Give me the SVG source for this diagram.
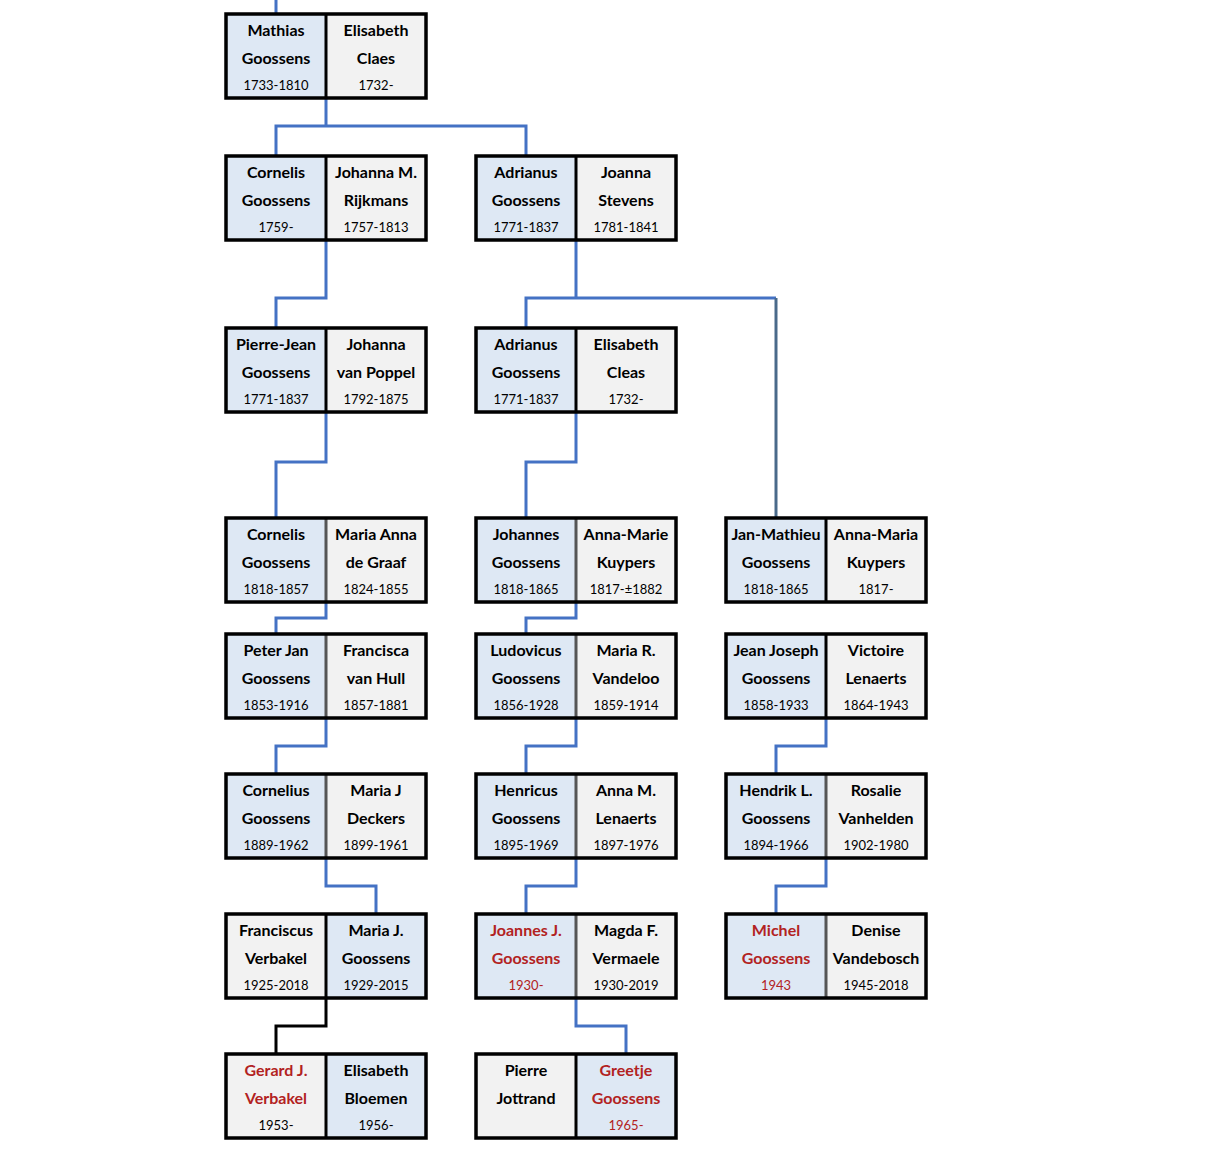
<svg xmlns="http://www.w3.org/2000/svg" width="1220" height="1154" viewBox="0 0 1220 1154">
<style>
.b{fill:#DEE8F4}.g{fill:#F2F2F2}
.o{fill:none;stroke:#000;stroke-width:3.5}
.dk{stroke:#000;stroke-width:3}.dg{stroke:#555;stroke-width:3}
text{font-family:Lato,"Open Sans","Liberation Sans",sans-serif;text-anchor:middle;fill:#000}
.n{font-size:16px;font-weight:bold}.y{font-size:13px}
.r{fill:#B22222}
.c{fill:none;stroke:#4472C4;stroke-width:3}
</style>
<g id="connectors">
<path class="c" d="M276 0V14M326 98V126M276 156V126H526V156M326 240V298H276V328M576 240V298H526V328M576 298H776"/>
<path fill="none" stroke="#4A6A8A" stroke-width="3" d="M776 298V518"/>
<path class="c" d="M326 412V462H276V518M576 412V462H526V518M326 602V618H276V634M576 602V618H526V634M326 718V746H276V774M576 718V746H526V774M826 718V746H776V774M326 858V886H376V914M576 858V886H526V914M826 858V886H776V914M576 998V1026H626V1054"/>
<path fill="none" stroke="#000" stroke-width="3" d="M326 998V1026H276V1054"/>
</g>
<g id="n1"><rect class="b" x="226" y="14" width="100" height="84"/><rect class="g" x="326" y="14" width="100" height="84"/><line class="dk" x1="326" y1="14" x2="326" y2="98"/><rect class="o" x="226" y="14" width="200" height="84"/>
<text class="n" x="276" y="36">Mathias</text><text class="n" x="276" y="64">Goossens</text><text class="y" x="276" y="90">1733-1810</text>
<text class="n" x="376" y="36">Elisabeth</text><text class="n" x="376" y="64">Claes</text><text class="y" x="376" y="90">1732-</text></g>
<g id="n2"><rect class="b" x="226" y="156" width="100" height="84"/><rect class="g" x="326" y="156" width="100" height="84"/><line class="dk" x1="326" y1="156" x2="326" y2="240"/><rect class="o" x="226" y="156" width="200" height="84"/>
<text class="n" x="276" y="178">Cornelis</text><text class="n" x="276" y="206">Goossens</text><text class="y" x="276" y="232">1759-</text>
<text class="n" x="376" y="178">Johanna M.</text><text class="n" x="376" y="206">Rijkmans</text><text class="y" x="376" y="232">1757-1813</text></g>
<g id="n3"><rect class="b" x="476" y="156" width="100" height="84"/><rect class="g" x="576" y="156" width="100" height="84"/><line class="dk" x1="576" y1="156" x2="576" y2="240"/><rect class="o" x="476" y="156" width="200" height="84"/>
<text class="n" x="526" y="178">Adrianus</text><text class="n" x="526" y="206">Goossens</text><text class="y" x="526" y="232">1771-1837</text>
<text class="n" x="626" y="178">Joanna</text><text class="n" x="626" y="206">Stevens</text><text class="y" x="626" y="232">1781-1841</text></g>
<g id="n4"><rect class="b" x="226" y="328" width="100" height="84"/><rect class="g" x="326" y="328" width="100" height="84"/><line class="dk" x1="326" y1="328" x2="326" y2="412"/><rect class="o" x="226" y="328" width="200" height="84"/>
<text class="n" x="276" y="350">Pierre-Jean</text><text class="n" x="276" y="378">Goossens</text><text class="y" x="276" y="404">1771-1837</text>
<text class="n" x="376" y="350">Johanna</text><text class="n" x="376" y="378">van Poppel</text><text class="y" x="376" y="404">1792-1875</text></g>
<g id="n5"><rect class="b" x="476" y="328" width="100" height="84"/><rect class="g" x="576" y="328" width="100" height="84"/><line class="dk" x1="576" y1="328" x2="576" y2="412"/><rect class="o" x="476" y="328" width="200" height="84"/>
<text class="n" x="526" y="350">Adrianus</text><text class="n" x="526" y="378">Goossens</text><text class="y" x="526" y="404">1771-1837</text>
<text class="n" x="626" y="350">Elisabeth</text><text class="n" x="626" y="378">Cleas</text><text class="y" x="626" y="404">1732-</text></g>
<g id="n6"><rect class="b" x="226" y="518" width="100" height="84"/><rect class="g" x="326" y="518" width="100" height="84"/><line class="dg" x1="326" y1="518" x2="326" y2="602"/><rect class="o" x="226" y="518" width="200" height="84"/>
<text class="n" x="276" y="540">Cornelis</text><text class="n" x="276" y="568">Goossens</text><text class="y" x="276" y="594">1818-1857</text>
<text class="n" x="376" y="540">Maria Anna</text><text class="n" x="376" y="568">de Graaf</text><text class="y" x="376" y="594">1824-1855</text></g>
<g id="n7"><rect class="b" x="476" y="518" width="100" height="84"/><rect class="g" x="576" y="518" width="100" height="84"/><line class="dg" x1="576" y1="518" x2="576" y2="602"/><rect class="o" x="476" y="518" width="200" height="84"/>
<text class="n" x="526" y="540">Johannes</text><text class="n" x="526" y="568">Goossens</text><text class="y" x="526" y="594">1818-1865</text>
<text class="n" x="626" y="540">Anna-Marie</text><text class="n" x="626" y="568">Kuypers</text><text class="y" x="626" y="594">1817-±1882</text></g>
<g id="n8"><rect class="b" x="726" y="518" width="100" height="84"/><rect class="g" x="826" y="518" width="100" height="84"/><line class="dk" x1="826" y1="518" x2="826" y2="602"/><rect class="o" x="726" y="518" width="200" height="84"/>
<text class="n" x="776" y="540">Jan-Mathieu</text><text class="n" x="776" y="568">Goossens</text><text class="y" x="776" y="594">1818-1865</text>
<text class="n" x="876" y="540">Anna-Maria</text><text class="n" x="876" y="568">Kuypers</text><text class="y" x="876" y="594">1817-</text></g>
<g id="n9"><rect class="b" x="226" y="634" width="100" height="84"/><rect class="g" x="326" y="634" width="100" height="84"/><line class="dg" x1="326" y1="634" x2="326" y2="718"/><rect class="o" x="226" y="634" width="200" height="84"/>
<text class="n" x="276" y="656">Peter Jan</text><text class="n" x="276" y="684">Goossens</text><text class="y" x="276" y="710">1853-1916</text>
<text class="n" x="376" y="656">Francisca</text><text class="n" x="376" y="684">van Hull</text><text class="y" x="376" y="710">1857-1881</text></g>
<g id="n10"><rect class="b" x="476" y="634" width="100" height="84"/><rect class="g" x="576" y="634" width="100" height="84"/><line class="dg" x1="576" y1="634" x2="576" y2="718"/><rect class="o" x="476" y="634" width="200" height="84"/>
<text class="n" x="526" y="656">Ludovicus</text><text class="n" x="526" y="684">Goossens</text><text class="y" x="526" y="710">1856-1928</text>
<text class="n" x="626" y="656">Maria R.</text><text class="n" x="626" y="684">Vandeloo</text><text class="y" x="626" y="710">1859-1914</text></g>
<g id="n11"><rect class="b" x="726" y="634" width="100" height="84"/><rect class="g" x="826" y="634" width="100" height="84"/><line class="dk" x1="826" y1="634" x2="826" y2="718"/><rect class="o" x="726" y="634" width="200" height="84"/>
<text class="n" x="776" y="656">Jean Joseph</text><text class="n" x="776" y="684">Goossens</text><text class="y" x="776" y="710">1858-1933</text>
<text class="n" x="876" y="656">Victoire</text><text class="n" x="876" y="684">Lenaerts</text><text class="y" x="876" y="710">1864-1943</text></g>
<g id="n12"><rect class="b" x="226" y="774" width="100" height="84"/><rect class="g" x="326" y="774" width="100" height="84"/><line class="dg" x1="326" y1="774" x2="326" y2="858"/><rect class="o" x="226" y="774" width="200" height="84"/>
<text class="n" x="276" y="796">Cornelius</text><text class="n" x="276" y="824">Goossens</text><text class="y" x="276" y="850">1889-1962</text>
<text class="n" x="376" y="796">Maria J</text><text class="n" x="376" y="824">Deckers</text><text class="y" x="376" y="850">1899-1961</text></g>
<g id="n13"><rect class="b" x="476" y="774" width="100" height="84"/><rect class="g" x="576" y="774" width="100" height="84"/><line class="dg" x1="576" y1="774" x2="576" y2="858"/><rect class="o" x="476" y="774" width="200" height="84"/>
<text class="n" x="526" y="796">Henricus</text><text class="n" x="526" y="824">Goossens</text><text class="y" x="526" y="850">1895-1969</text>
<text class="n" x="626" y="796">Anna M.</text><text class="n" x="626" y="824">Lenaerts</text><text class="y" x="626" y="850">1897-1976</text></g>
<g id="n14"><rect class="b" x="726" y="774" width="100" height="84"/><rect class="g" x="826" y="774" width="100" height="84"/><line class="dg" x1="826" y1="774" x2="826" y2="858"/><rect class="o" x="726" y="774" width="200" height="84"/>
<text class="n" x="776" y="796">Hendrik L.</text><text class="n" x="776" y="824">Goossens</text><text class="y" x="776" y="850">1894-1966</text>
<text class="n" x="876" y="796">Rosalie</text><text class="n" x="876" y="824">Vanhelden</text><text class="y" x="876" y="850">1902-1980</text></g>
<g id="n15"><rect class="g" x="226" y="914" width="100" height="84"/><rect class="b" x="326" y="914" width="100" height="84"/><line class="dk" x1="326" y1="914" x2="326" y2="998"/><rect class="o" x="226" y="914" width="200" height="84"/>
<text class="n" x="276" y="936">Franciscus</text><text class="n" x="276" y="964">Verbakel</text><text class="y" x="276" y="990">1925-2018</text>
<text class="n" x="376" y="936">Maria J.</text><text class="n" x="376" y="964">Goossens</text><text class="y" x="376" y="990">1929-2015</text></g>
<g id="n16"><rect class="b" x="476" y="914" width="100" height="84"/><rect class="g" x="576" y="914" width="100" height="84"/><line class="dg" x1="576" y1="914" x2="576" y2="998"/><rect class="o" x="476" y="914" width="200" height="84"/>
<text class="n r" x="526" y="936">Joannes J.</text><text class="n r" x="526" y="964">Goossens</text><text class="y r" x="526" y="990">1930-</text>
<text class="n" x="626" y="936">Magda F.</text><text class="n" x="626" y="964">Vermaele</text><text class="y" x="626" y="990">1930-2019</text></g>
<g id="n17"><rect class="b" x="726" y="914" width="100" height="84"/><rect class="g" x="826" y="914" width="100" height="84"/><line class="dg" x1="826" y1="914" x2="826" y2="998"/><rect class="o" x="726" y="914" width="200" height="84"/>
<text class="n r" x="776" y="936">Michel</text><text class="n r" x="776" y="964">Goossens</text><text class="y r" x="776" y="990">1943</text>
<text class="n" x="876" y="936">Denise</text><text class="n" x="876" y="964">Vandebosch</text><text class="y" x="876" y="990">1945-2018</text></g>
<g id="n18"><rect class="g" x="226" y="1054" width="100" height="84"/><rect class="b" x="326" y="1054" width="100" height="84"/><line class="dk" x1="326" y1="1054" x2="326" y2="1138"/><rect class="o" x="226" y="1054" width="200" height="84"/>
<text class="n r" x="276" y="1076">Gerard J.</text><text class="n r" x="276" y="1104">Verbakel</text><text class="y" x="276" y="1130">1953-</text>
<text class="n" x="376" y="1076">Elisabeth</text><text class="n" x="376" y="1104">Bloemen</text><text class="y" x="376" y="1130">1956-</text></g>
<g id="n19"><rect class="g" x="476" y="1054" width="100" height="84"/><rect class="b" x="576" y="1054" width="100" height="84"/><line class="dk" x1="576" y1="1054" x2="576" y2="1138"/><rect class="o" x="476" y="1054" width="200" height="84"/>
<text class="n" x="526" y="1076">Pierre</text><text class="n" x="526" y="1104">Jottrand</text>
<text class="n r" x="626" y="1076">Greetje</text><text class="n r" x="626" y="1104">Goossens</text><text class="y r" x="626" y="1130">1965-</text></g>
</svg>
